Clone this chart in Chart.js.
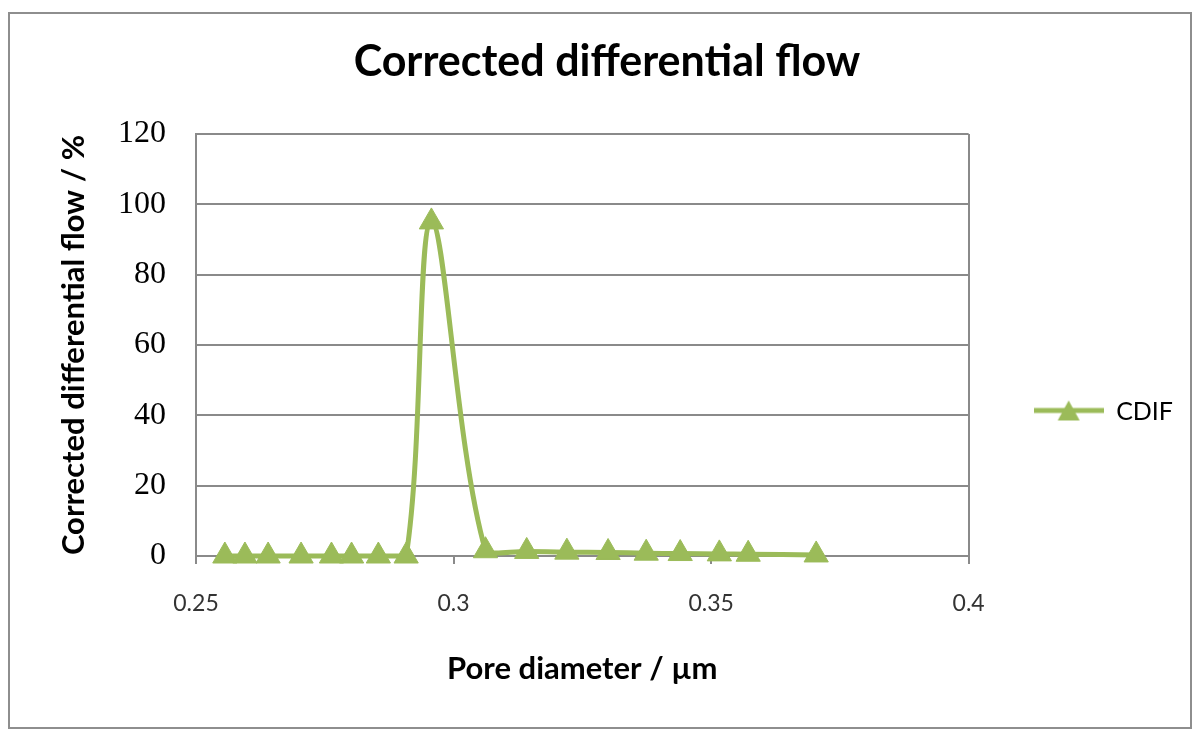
<!DOCTYPE html>
<html>
<head>
<meta charset="utf-8">
<title>Corrected differential flow</title>
<script src="https://cdn.jsdelivr.net/npm/chart.js@4.4.1/dist/chart.umd.min.js"></script>
<style>
  html, body { margin: 0; padding: 0; background: #ffffff; }
  #wrap { position: relative; width: 1197px; height: 731px; }
  #chartCdif { position: absolute; left: 0; top: 0; }
  #frame { position: absolute; left: 8px; top: 12px; width: 1180px; height: 713px; border: 2px solid #8e8e8e; pointer-events: none; }
</style>
</head>
<body>
<div id="wrap">
  <canvas id="chartCdif" width="1197" height="731"></canvas>
  <div id="frame"></div>
</div>
<script>
// Values
const poreDiameter = [0.2556, 0.2595, 0.2640, 0.2704, 0.2763, 0.2802, 0.2854, 0.2908, 0.2957,
                      0.3062, 0.3142, 0.3220, 0.3300, 0.3374, 0.3440, 0.3516, 0.3572, 0.3704];
const cdifValues = [0, 0, 0, 0, 0, 0, 0, 0, 95,
                    1.5, 1.3, 1.1, 1.0, 0.8, 0.7, 0.6, 0.5, 0.3];
const seriesName = 'CDIF';
const xTicks = [0.25, 0.3, 0.35, 0.4];
const yTicks = [0, 20, 40, 60, 80, 100, 120];

const lineColor = '#9bbb59';
const gridColor = '#8a8a8a';
const sansFont = 'Lato, "Noto Sans", sans-serif';
const serifFont = '"Liberation Serif", "DejaVu Serif", serif';

// how far the legend sits below the middle of the picture
const legendDrop = 46;

let chartCdif;

// small picture for the legend: line with a triangle on it
function makeLegendSymbol() {
    const c = document.createElement('canvas');
    c.width = 70;
    c.height = 26;
    const g = c.getContext('2d');
    g.strokeStyle = lineColor;
    g.lineWidth = 5;
    g.beginPath();
    g.moveTo(0, 12);
    g.lineTo(70, 12);
    g.stroke();
    g.fillStyle = lineColor;
    g.beginPath();
    g.moveTo(35, 2);
    g.lineTo(46, 22);
    g.lineTo(24, 22);
    g.closePath();
    g.fill();
    return c;
}

// push the legend down a bit, like in the original
const legendShift = {
    id: 'legendShift',
    afterUpdate(chart) {
        const lg = chart.legend;
        if (!lg) return;
        lg.top += legendDrop;
        lg.bottom += legendDrop;
    }
};

function drawChart() {
    const ctx = document.getElementById('chartCdif').getContext('2d');
    if (chartCdif) chartCdif.destroy();

    const points = poreDiameter.map((x, i) => ({ x: x, y: cdifValues[i] }));

    chartCdif = new Chart(ctx, {
        type: 'line',
        data: {
            datasets: [{
                label: seriesName,
                data: points,
                borderColor: lineColor,
                backgroundColor: lineColor,
                borderWidth: 5,
                tension: 0.35,
                clip: false,
                pointStyle: 'triangle',
                pointRadius: 14,
                pointHoverRadius: 14,
                pointBorderWidth: 1,
                pointBackgroundColor: lineColor,
                pointBorderColor: lineColor,
                fill: false
            }]
        },
        options: {
            responsive: false,
            animation: false,
            devicePixelRatio: 1,
            layout: { padding: { left: 31, right: 14, top: 0, bottom: 0 } },
            plugins: {
                title: {
                    display: true,
                    text: 'Corrected differential flow',
                    color: '#000',
                    font: { family: sansFont, size: 43, weight: 'bold', lineHeight: 1.2 },
                    padding: { top: 36.4, bottom: 46 }
                },
                legend: {
                    position: 'right',
                    labels: {
                        usePointStyle: true,
                        pointStyle: makeLegendSymbol(),
                        pointStyleWidth: 70,
                        padding: 65,
                        color: '#000',
                        font: { family: sansFont, size: 25 }
                    }
                },
                tooltip: { enabled: false }
            },
            scales: {
                x: {
                    type: 'linear',
                    min: 0.25,
                    max: 0.4,
                    afterBuildTicks: s => { s.ticks = xTicks.map(v => ({ value: v })); },
                    afterFit: s => { s.height = 175; },
                    border: { display: true, color: gridColor, width: 2 },
                    grid: {
                        color: c => (c.tick && c.tick.value === 0.4 ? gridColor : 'rgba(0,0,0,0)'),
                        tickColor: gridColor,
                        lineWidth: 2,
                        drawTicks: true,
                        tickLength: 8
                    },
                    ticks: {
                        color: '#333',
                        padding: 26,
                        maxRotation: 0,
                        font: { family: sansFont, size: 23 },
                        callback: v => String(Number(v.toFixed(2)))
                    },
                    title: {
                        display: true,
                        text: 'Pore diameter / \u00b5m',
                        color: '#000',
                        font: { family: sansFont, size: 31, weight: 'bold', lineHeight: 1.2 },
                        padding: { top: 0, bottom: 43.4 }
                    }
                },
                y: {
                    min: 0,
                    max: 120,
                    afterBuildTicks: s => { s.ticks = yTicks.map(v => ({ value: v })); },
                    afterFit: s => { s.width = 165; },
                    border: { display: true, color: gridColor, width: 2 },
                    grid: {
                        color: gridColor,
                        lineWidth: 2,
                        drawTicks: false
                    },
                    ticks: {
                        color: '#000',
                        padding: 30,
                        font: { family: serifFont, size: 32 }
                    },
                    title: {
                        display: true,
                        text: 'Corrected differential flow / %',
                        color: '#000',
                        font: { family: sansFont, size: 31, weight: 'bold', lineHeight: 1.2 },
                        padding: { top: 24.5, bottom: 0 }
                    }
                }
            }
        },
        plugins: [legendShift]
    });
}

document.addEventListener('DOMContentLoaded', drawChart);
</script>
</body>
</html>
